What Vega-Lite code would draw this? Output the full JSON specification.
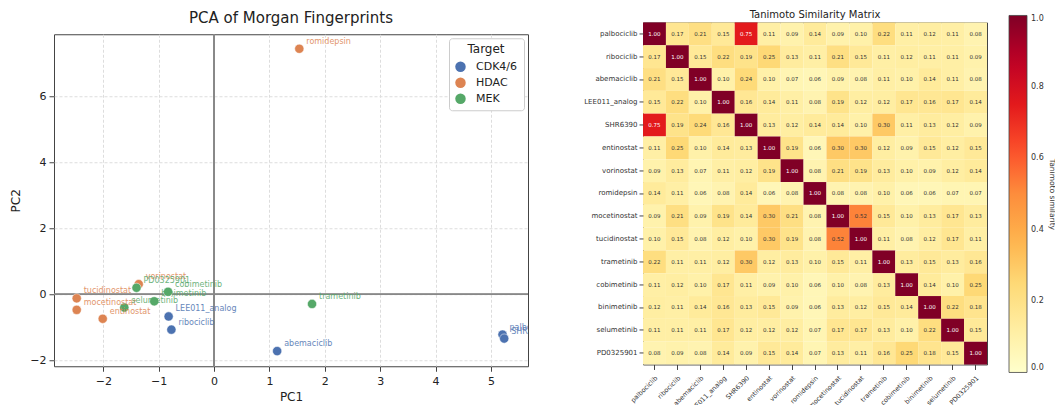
{
  "$schema": "https://vega.github.io/schema/vega-lite/v6.json",
  "padding": {"left": 9, "top": 9, "right": 0, "bottom": 0},
  "spacing": 54,
  "center": true,
  "config": {
    "font": "DejaVu Sans",
    "view": {"stroke": "#444", "strokeWidth": 1},
    "title": {"fontWeight": "normal", "color": "#222"}
  },
  "datasets": {
    "pca": [
      {"name": "palbociclib", "Target": "CDK4/6", "pc1": 5.21, "pc2": -1.22},
      {"name": "ribociclib", "Target": "CDK4/6", "pc1": -0.77, "pc2": -1.07},
      {"name": "abemaciclib", "Target": "CDK4/6", "pc1": 1.14, "pc2": -1.72},
      {"name": "LEE011_analog", "Target": "CDK4/6", "pc1": -0.82, "pc2": -0.67},
      {"name": "SHR6390", "Target": "CDK4/6", "pc1": 5.24, "pc2": -1.34},
      {"name": "entinostat", "Target": "HDAC", "pc1": -2.01, "pc2": -0.74},
      {"name": "vorinostat", "Target": "HDAC", "pc1": -1.36, "pc2": 0.31},
      {"name": "romidepsin", "Target": "HDAC", "pc1": 1.54, "pc2": 7.45},
      {"name": "mocetinostat", "Target": "HDAC", "pc1": -2.48, "pc2": -0.47},
      {"name": "tucidinostat", "Target": "HDAC", "pc1": -2.48, "pc2": -0.12},
      {"name": "trametinib", "Target": "MEK", "pc1": 1.77, "pc2": -0.29},
      {"name": "cobimetinib", "Target": "MEK", "pc1": -0.83, "pc2": 0.08},
      {"name": "binimetinib", "Target": "MEK", "pc1": -1.08, "pc2": -0.21},
      {"name": "selumetinib", "Target": "MEK", "pc1": -1.62, "pc2": -0.4},
      {"name": "PD0325901", "Target": "MEK", "pc1": -1.4, "pc2": 0.2}
    ],
    "sim": [
      {"r":"palbociclib","c":"palbociclib","v":1.00},{"r":"palbociclib","c":"ribociclib","v":0.17},{"r":"palbociclib","c":"abemaciclib","v":0.21},{"r":"palbociclib","c":"LEE011_analog","v":0.15},{"r":"palbociclib","c":"SHR6390","v":0.75},{"r":"palbociclib","c":"entinostat","v":0.11},{"r":"palbociclib","c":"vorinostat","v":0.09},{"r":"palbociclib","c":"romidepsin","v":0.14},{"r":"palbociclib","c":"mocetinostat","v":0.09},{"r":"palbociclib","c":"tucidinostat","v":0.10},{"r":"palbociclib","c":"trametinib","v":0.22},{"r":"palbociclib","c":"cobimetinib","v":0.11},{"r":"palbociclib","c":"binimetinib","v":0.12},{"r":"palbociclib","c":"selumetinib","v":0.11},{"r":"palbociclib","c":"PD0325901","v":0.08},
      {"r":"ribociclib","c":"palbociclib","v":0.17},{"r":"ribociclib","c":"ribociclib","v":1.00},{"r":"ribociclib","c":"abemaciclib","v":0.15},{"r":"ribociclib","c":"LEE011_analog","v":0.22},{"r":"ribociclib","c":"SHR6390","v":0.19},{"r":"ribociclib","c":"entinostat","v":0.25},{"r":"ribociclib","c":"vorinostat","v":0.13},{"r":"ribociclib","c":"romidepsin","v":0.11},{"r":"ribociclib","c":"mocetinostat","v":0.21},{"r":"ribociclib","c":"tucidinostat","v":0.15},{"r":"ribociclib","c":"trametinib","v":0.11},{"r":"ribociclib","c":"cobimetinib","v":0.12},{"r":"ribociclib","c":"binimetinib","v":0.11},{"r":"ribociclib","c":"selumetinib","v":0.11},{"r":"ribociclib","c":"PD0325901","v":0.09},
      {"r":"abemaciclib","c":"palbociclib","v":0.21},{"r":"abemaciclib","c":"ribociclib","v":0.15},{"r":"abemaciclib","c":"abemaciclib","v":1.00},{"r":"abemaciclib","c":"LEE011_analog","v":0.10},{"r":"abemaciclib","c":"SHR6390","v":0.24},{"r":"abemaciclib","c":"entinostat","v":0.10},{"r":"abemaciclib","c":"vorinostat","v":0.07},{"r":"abemaciclib","c":"romidepsin","v":0.06},{"r":"abemaciclib","c":"mocetinostat","v":0.09},{"r":"abemaciclib","c":"tucidinostat","v":0.08},{"r":"abemaciclib","c":"trametinib","v":0.11},{"r":"abemaciclib","c":"cobimetinib","v":0.10},{"r":"abemaciclib","c":"binimetinib","v":0.14},{"r":"abemaciclib","c":"selumetinib","v":0.11},{"r":"abemaciclib","c":"PD0325901","v":0.08},
      {"r":"LEE011_analog","c":"palbociclib","v":0.15},{"r":"LEE011_analog","c":"ribociclib","v":0.22},{"r":"LEE011_analog","c":"abemaciclib","v":0.10},{"r":"LEE011_analog","c":"LEE011_analog","v":1.00},{"r":"LEE011_analog","c":"SHR6390","v":0.16},{"r":"LEE011_analog","c":"entinostat","v":0.14},{"r":"LEE011_analog","c":"vorinostat","v":0.11},{"r":"LEE011_analog","c":"romidepsin","v":0.08},{"r":"LEE011_analog","c":"mocetinostat","v":0.19},{"r":"LEE011_analog","c":"tucidinostat","v":0.12},{"r":"LEE011_analog","c":"trametinib","v":0.12},{"r":"LEE011_analog","c":"cobimetinib","v":0.17},{"r":"LEE011_analog","c":"binimetinib","v":0.16},{"r":"LEE011_analog","c":"selumetinib","v":0.17},{"r":"LEE011_analog","c":"PD0325901","v":0.14},
      {"r":"SHR6390","c":"palbociclib","v":0.75},{"r":"SHR6390","c":"ribociclib","v":0.19},{"r":"SHR6390","c":"abemaciclib","v":0.24},{"r":"SHR6390","c":"LEE011_analog","v":0.16},{"r":"SHR6390","c":"SHR6390","v":1.00},{"r":"SHR6390","c":"entinostat","v":0.13},{"r":"SHR6390","c":"vorinostat","v":0.12},{"r":"SHR6390","c":"romidepsin","v":0.14},{"r":"SHR6390","c":"mocetinostat","v":0.14},{"r":"SHR6390","c":"tucidinostat","v":0.10},{"r":"SHR6390","c":"trametinib","v":0.30},{"r":"SHR6390","c":"cobimetinib","v":0.11},{"r":"SHR6390","c":"binimetinib","v":0.13},{"r":"SHR6390","c":"selumetinib","v":0.12},{"r":"SHR6390","c":"PD0325901","v":0.09},
      {"r":"entinostat","c":"palbociclib","v":0.11},{"r":"entinostat","c":"ribociclib","v":0.25},{"r":"entinostat","c":"abemaciclib","v":0.10},{"r":"entinostat","c":"LEE011_analog","v":0.14},{"r":"entinostat","c":"SHR6390","v":0.13},{"r":"entinostat","c":"entinostat","v":1.00},{"r":"entinostat","c":"vorinostat","v":0.19},{"r":"entinostat","c":"romidepsin","v":0.06},{"r":"entinostat","c":"mocetinostat","v":0.30},{"r":"entinostat","c":"tucidinostat","v":0.30},{"r":"entinostat","c":"trametinib","v":0.12},{"r":"entinostat","c":"cobimetinib","v":0.09},{"r":"entinostat","c":"binimetinib","v":0.15},{"r":"entinostat","c":"selumetinib","v":0.12},{"r":"entinostat","c":"PD0325901","v":0.15},
      {"r":"vorinostat","c":"palbociclib","v":0.09},{"r":"vorinostat","c":"ribociclib","v":0.13},{"r":"vorinostat","c":"abemaciclib","v":0.07},{"r":"vorinostat","c":"LEE011_analog","v":0.11},{"r":"vorinostat","c":"SHR6390","v":0.12},{"r":"vorinostat","c":"entinostat","v":0.19},{"r":"vorinostat","c":"vorinostat","v":1.00},{"r":"vorinostat","c":"romidepsin","v":0.08},{"r":"vorinostat","c":"mocetinostat","v":0.21},{"r":"vorinostat","c":"tucidinostat","v":0.19},{"r":"vorinostat","c":"trametinib","v":0.13},{"r":"vorinostat","c":"cobimetinib","v":0.10},{"r":"vorinostat","c":"binimetinib","v":0.09},{"r":"vorinostat","c":"selumetinib","v":0.12},{"r":"vorinostat","c":"PD0325901","v":0.14},
      {"r":"romidepsin","c":"palbociclib","v":0.14},{"r":"romidepsin","c":"ribociclib","v":0.11},{"r":"romidepsin","c":"abemaciclib","v":0.06},{"r":"romidepsin","c":"LEE011_analog","v":0.08},{"r":"romidepsin","c":"SHR6390","v":0.14},{"r":"romidepsin","c":"entinostat","v":0.06},{"r":"romidepsin","c":"vorinostat","v":0.08},{"r":"romidepsin","c":"romidepsin","v":1.00},{"r":"romidepsin","c":"mocetinostat","v":0.08},{"r":"romidepsin","c":"tucidinostat","v":0.08},{"r":"romidepsin","c":"trametinib","v":0.10},{"r":"romidepsin","c":"cobimetinib","v":0.06},{"r":"romidepsin","c":"binimetinib","v":0.06},{"r":"romidepsin","c":"selumetinib","v":0.07},{"r":"romidepsin","c":"PD0325901","v":0.07},
      {"r":"mocetinostat","c":"palbociclib","v":0.09},{"r":"mocetinostat","c":"ribociclib","v":0.21},{"r":"mocetinostat","c":"abemaciclib","v":0.09},{"r":"mocetinostat","c":"LEE011_analog","v":0.19},{"r":"mocetinostat","c":"SHR6390","v":0.14},{"r":"mocetinostat","c":"entinostat","v":0.30},{"r":"mocetinostat","c":"vorinostat","v":0.21},{"r":"mocetinostat","c":"romidepsin","v":0.08},{"r":"mocetinostat","c":"mocetinostat","v":1.00},{"r":"mocetinostat","c":"tucidinostat","v":0.52},{"r":"mocetinostat","c":"trametinib","v":0.15},{"r":"mocetinostat","c":"cobimetinib","v":0.10},{"r":"mocetinostat","c":"binimetinib","v":0.13},{"r":"mocetinostat","c":"selumetinib","v":0.17},{"r":"mocetinostat","c":"PD0325901","v":0.13},
      {"r":"tucidinostat","c":"palbociclib","v":0.10},{"r":"tucidinostat","c":"ribociclib","v":0.15},{"r":"tucidinostat","c":"abemaciclib","v":0.08},{"r":"tucidinostat","c":"LEE011_analog","v":0.12},{"r":"tucidinostat","c":"SHR6390","v":0.10},{"r":"tucidinostat","c":"entinostat","v":0.30},{"r":"tucidinostat","c":"vorinostat","v":0.19},{"r":"tucidinostat","c":"romidepsin","v":0.08},{"r":"tucidinostat","c":"mocetinostat","v":0.52},{"r":"tucidinostat","c":"tucidinostat","v":1.00},{"r":"tucidinostat","c":"trametinib","v":0.11},{"r":"tucidinostat","c":"cobimetinib","v":0.08},{"r":"tucidinostat","c":"binimetinib","v":0.12},{"r":"tucidinostat","c":"selumetinib","v":0.17},{"r":"tucidinostat","c":"PD0325901","v":0.11},
      {"r":"trametinib","c":"palbociclib","v":0.22},{"r":"trametinib","c":"ribociclib","v":0.11},{"r":"trametinib","c":"abemaciclib","v":0.11},{"r":"trametinib","c":"LEE011_analog","v":0.12},{"r":"trametinib","c":"SHR6390","v":0.30},{"r":"trametinib","c":"entinostat","v":0.12},{"r":"trametinib","c":"vorinostat","v":0.13},{"r":"trametinib","c":"romidepsin","v":0.10},{"r":"trametinib","c":"mocetinostat","v":0.15},{"r":"trametinib","c":"tucidinostat","v":0.11},{"r":"trametinib","c":"trametinib","v":1.00},{"r":"trametinib","c":"cobimetinib","v":0.13},{"r":"trametinib","c":"binimetinib","v":0.15},{"r":"trametinib","c":"selumetinib","v":0.13},{"r":"trametinib","c":"PD0325901","v":0.16},
      {"r":"cobimetinib","c":"palbociclib","v":0.11},{"r":"cobimetinib","c":"ribociclib","v":0.12},{"r":"cobimetinib","c":"abemaciclib","v":0.10},{"r":"cobimetinib","c":"LEE011_analog","v":0.17},{"r":"cobimetinib","c":"SHR6390","v":0.11},{"r":"cobimetinib","c":"entinostat","v":0.09},{"r":"cobimetinib","c":"vorinostat","v":0.10},{"r":"cobimetinib","c":"romidepsin","v":0.06},{"r":"cobimetinib","c":"mocetinostat","v":0.10},{"r":"cobimetinib","c":"tucidinostat","v":0.08},{"r":"cobimetinib","c":"trametinib","v":0.13},{"r":"cobimetinib","c":"cobimetinib","v":1.00},{"r":"cobimetinib","c":"binimetinib","v":0.14},{"r":"cobimetinib","c":"selumetinib","v":0.10},{"r":"cobimetinib","c":"PD0325901","v":0.25},
      {"r":"binimetinib","c":"palbociclib","v":0.12},{"r":"binimetinib","c":"ribociclib","v":0.11},{"r":"binimetinib","c":"abemaciclib","v":0.14},{"r":"binimetinib","c":"LEE011_analog","v":0.16},{"r":"binimetinib","c":"SHR6390","v":0.13},{"r":"binimetinib","c":"entinostat","v":0.15},{"r":"binimetinib","c":"vorinostat","v":0.09},{"r":"binimetinib","c":"romidepsin","v":0.06},{"r":"binimetinib","c":"mocetinostat","v":0.13},{"r":"binimetinib","c":"tucidinostat","v":0.12},{"r":"binimetinib","c":"trametinib","v":0.15},{"r":"binimetinib","c":"cobimetinib","v":0.14},{"r":"binimetinib","c":"binimetinib","v":1.00},{"r":"binimetinib","c":"selumetinib","v":0.22},{"r":"binimetinib","c":"PD0325901","v":0.18},
      {"r":"selumetinib","c":"palbociclib","v":0.11},{"r":"selumetinib","c":"ribociclib","v":0.11},{"r":"selumetinib","c":"abemaciclib","v":0.11},{"r":"selumetinib","c":"LEE011_analog","v":0.17},{"r":"selumetinib","c":"SHR6390","v":0.12},{"r":"selumetinib","c":"entinostat","v":0.12},{"r":"selumetinib","c":"vorinostat","v":0.12},{"r":"selumetinib","c":"romidepsin","v":0.07},{"r":"selumetinib","c":"mocetinostat","v":0.17},{"r":"selumetinib","c":"tucidinostat","v":0.17},{"r":"selumetinib","c":"trametinib","v":0.13},{"r":"selumetinib","c":"cobimetinib","v":0.10},{"r":"selumetinib","c":"binimetinib","v":0.22},{"r":"selumetinib","c":"selumetinib","v":1.00},{"r":"selumetinib","c":"PD0325901","v":0.15},
      {"r":"PD0325901","c":"palbociclib","v":0.08},{"r":"PD0325901","c":"ribociclib","v":0.09},{"r":"PD0325901","c":"abemaciclib","v":0.08},{"r":"PD0325901","c":"LEE011_analog","v":0.14},{"r":"PD0325901","c":"SHR6390","v":0.09},{"r":"PD0325901","c":"entinostat","v":0.15},{"r":"PD0325901","c":"vorinostat","v":0.14},{"r":"PD0325901","c":"romidepsin","v":0.07},{"r":"PD0325901","c":"mocetinostat","v":0.13},{"r":"PD0325901","c":"tucidinostat","v":0.11},{"r":"PD0325901","c":"trametinib","v":0.16},{"r":"PD0325901","c":"cobimetinib","v":0.25},{"r":"PD0325901","c":"binimetinib","v":0.18},{"r":"PD0325901","c":"selumetinib","v":0.15},{"r":"PD0325901","c":"PD0325901","v":1.00}
    ]
  },
  "hconcat": [
    {
      "width": 474,
      "height": 332,
      "title": {"text": "PCA of Morgan Fingerprints", "fontSize": 15, "offset": 8},
      "data": {"name": "pca"},
      "layer": [
        {
          "mark": {"type": "rule", "color": "#888", "strokeWidth": 0.9},
          "encoding": {"x": {"datum": 0, "type": "quantitative"}}
        },
        {
          "mark": {"type": "rule", "color": "#888", "strokeWidth": 0.9},
          "encoding": {"y": {"datum": 0, "type": "quantitative"}}
        },
        {
          "mark": {"type": "point", "filled": true, "size": 85, "opacity": 1, "stroke": "white", "strokeWidth": 0.5},
          "encoding": {
            "x": {
              "field": "pc1", "type": "quantitative",
              "scale": {"domain": [-2.89, 5.67], "nice": false, "zero": false},
              "axis": {"title": "PC1", "values": [-2, -1, 0, 1, 2, 3, 4, 5], "titleFontSize": 12, "titleFontWeight": "normal", "titleColor": "#222", "labelFontSize": 11, "labelColor": "#222", "tickColor": "#444", "tickSize": 5, "labelPadding": 4, "domain": false, "grid": true, "gridColor": "#ddd", "gridDash": [3, 2], "titlePadding": 5}
            },
            "y": {
              "field": "pc2", "type": "quantitative",
              "scale": {"domain": [-2.18, 7.89], "nice": false, "zero": false},
              "axis": {"title": "PC2", "values": [-2, 0, 2, 4, 6], "titleFontSize": 12, "titleFontWeight": "normal", "titleColor": "#222", "labelFontSize": 11, "labelColor": "#222", "tickColor": "#444", "tickSize": 5, "labelPadding": 3, "domain": false, "grid": true, "gridColor": "#ddd", "gridDash": [3, 2], "titlePadding": 7}
            },
            "color": {
              "field": "Target", "type": "nominal",
              "scale": {"domain": ["CDK4/6", "HDAC", "MEK"], "range": ["#4C72B0", "#DD8452", "#55A868"]},
              "legend": {"orient": "top-right", "offset": 4, "title": "Target", "titleFontSize": 12, "titleFontWeight": "normal", "titleColor": "#222", "titleAnchor": "middle", "labelFontSize": 11, "labelColor": "#222", "symbolType": "circle", "symbolSize": 110, "symbolOpacity": 1, "symbolStrokeWidth": 0, "fillColor": "white", "strokeColor": "#ccc", "cornerRadius": 3, "padding": 6, "rowPadding": 4, "labelOffset": 10}
            }
          }
        },
        {
          "mark": {"type": "text", "align": "left", "baseline": "middle", "dx": 7, "dy": -7, "fontSize": 8, "opacity": 0.85, "clip": true},
          "encoding": {
            "x": {"field": "pc1", "type": "quantitative"},
            "y": {"field": "pc2", "type": "quantitative"},
            "text": {"field": "name"},
            "color": {"field": "Target", "type": "nominal", "legend": null}
          }
        }
      ]
    },
    {
      "width": 344,
      "height": 342,
      "title": {"text": "Tanimoto Similarity Matrix", "fontSize": 10, "offset": -5},
      "data": {"name": "sim"},
      "encoding": {
        "x": {
          "field": "c", "type": "nominal",
          "sort": ["palbociclib","ribociclib","abemaciclib","LEE011_analog","SHR6390","entinostat","vorinostat","romidepsin","mocetinostat","tucidinostat","trametinib","cobimetinib","binimetinib","selumetinib","PD0325901"],
          "axis": {"title": null, "labelAngle": -45, "labelAlign": "right", "labelBaseline": "top", "labelFontSize": 6.5, "labelColor": "#333", "tickSize": 5, "tickColor": "#444", "domain": false, "labelPadding": 5}
        },
        "y": {
          "field": "r", "type": "nominal",
          "sort": ["palbociclib","ribociclib","abemaciclib","LEE011_analog","SHR6390","entinostat","vorinostat","romidepsin","mocetinostat","tucidinostat","trametinib","cobimetinib","binimetinib","selumetinib","PD0325901"],
          "axis": {"title": null, "labelFontSize": 7, "labelColor": "#333", "tickSize": 4, "tickColor": "#444", "domain": false, "labelPadding": 2}
        }
      },
      "layer": [
        {
          "mark": {"type": "rect"},
          "encoding": {
            "color": {
              "field": "v", "type": "quantitative",
              "scale": {"domain": [0, 0.125, 0.25, 0.375, 0.5, 0.625, 0.75, 0.875, 1], "range": ["#ffffcc", "#ffeda0", "#fed976", "#feb24c", "#fd8d3c", "#fc4e2a", "#e31a1c", "#bd0026", "#800026"], "interpolate": "rgb"},
              "legend": {"orient": "none", "legendX": 366, "legendY": -7, "direction": "vertical", "gradientLength": 357, "gradientThickness": 18, "gradientStrokeColor": "#444", "gradientStrokeWidth": 0.8, "values": [0, 0.2, 0.4, 0.6, 0.8, 1], "format": ".1f", "labelFontSize": 8, "labelColor": "#333", "labelOffset": 4, "title": "Tanimoto similarity", "titleOrient": "right", "titleAngle": 270, "titleFontSize": 7.5, "titleFontWeight": "normal", "titleColor": "#333", "titleAnchor": "middle", "titlePadding": 4}
            }
          }
        },
        {
          "mark": {"type": "text", "fontSize": 5.5},
          "encoding": {
            "text": {"field": "v", "type": "quantitative", "format": ".2f"},
            "color": {"condition": {"test": "datum.v > 0.6", "value": "white"}, "value": "#333"}
          }
        }
      ]
    }
  ]
}
